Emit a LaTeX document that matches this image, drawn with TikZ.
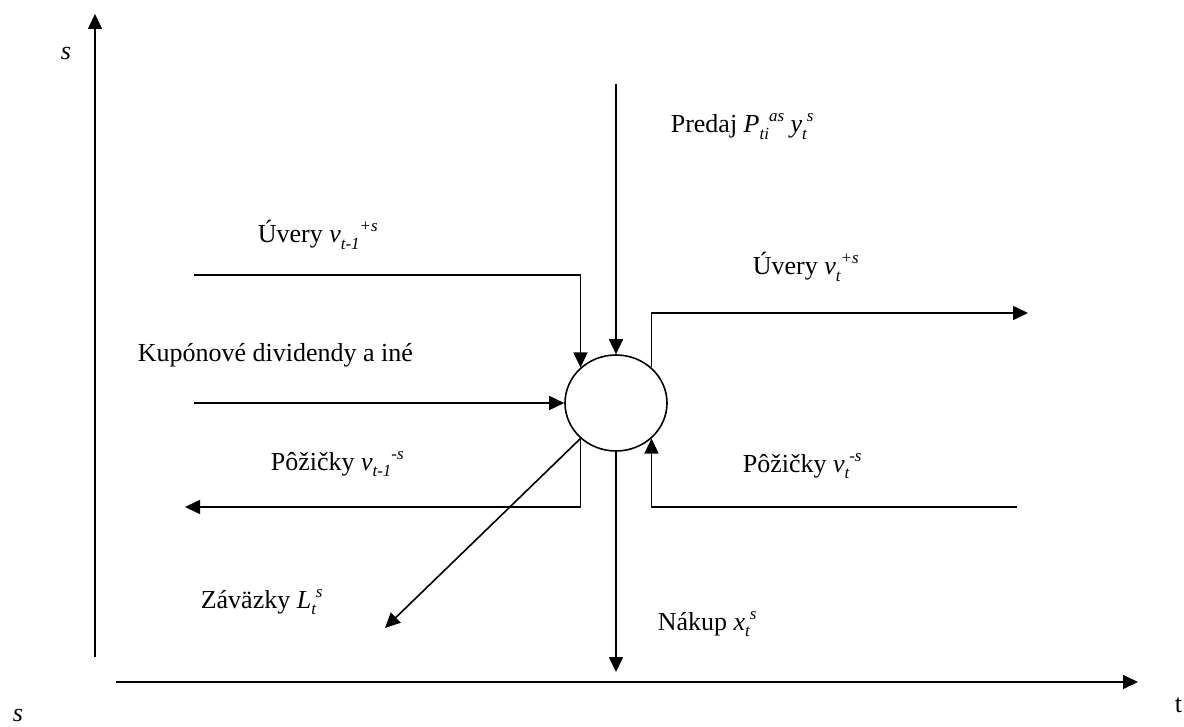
\documentclass[tikz,border=0pt]{standalone}
\usepackage{fontspec}
\setmainfont{Liberation Serif}
\usetikzlibrary{arrows.meta,shapes.geometric}
\newcommand\sbs[1]{\raisebox{-6.5pt}{\fontsize{17}{17}\selectfont #1}}
\newcommand\sps[1]{\raisebox{11pt}{\fontsize{17}{17}\selectfont #1}}
\begin{document}
\begin{tikzpicture}[x=1pt,y=-1pt,line width=1.6pt,
  arr/.style={-{Triangle[length=15pt,width=14pt]}},
  lbl/.style={anchor=base west,inner sep=0pt,font=\fontsize{26}{30}\selectfont},
  hub/.style={draw,ellipse,minimum width=102pt,minimum height=96pt,inner sep=0pt}]
\useasboundingbox (0,0) rectangle (1184,727);

% axes
\coordinate (yb) at (95,657);
\coordinate (yt) at (95,14);
\coordinate (xb) at (116,682);
\coordinate (xt) at (1138,682);
\draw[arr] (yb) -- (yt);
\draw[arr] (xb) -- (xt);
\node[lbl] (sTop) at (60,60) {\textit{s}};
\node[lbl] (sBot) at (12,721) {\textit{s}};
\node[lbl] (tLab) at (1174,712) {t};

% hub
\node[hub] (c) at (616,403) {};

% free ends
\coordinate (pr) at (616,84);
\coordinate (uv1) at (194,275);
\coordinate (kup) at (194,403);
\coordinate (pz1) at (185,507);
\coordinate (zav) at (385,628);
\coordinate (nak) at (616,672);
\coordinate (pz2) at (1017,507);
\coordinate (uv2) at (1028,313);

% connectors
\draw[arr] (pr) -- (c.north);
\draw[arr] (uv1) -| (c.135);
\draw[arr] (kup) -- (c.west);
\draw[arr] (c.225) |- (pz1);
\draw[arr] (c.225) -- (zav);
\draw[arr] (c.south) -- (nak);
\draw[arr] (pz2) -| (c.-45);
\draw[arr] (c.45) |- (uv2);

% labels
\node[lbl] (lPredaj) at (670,133) {Predaj \textit{P\sbs{ti}\sps{as} y\sbs{t}\sps{s}}};
\node[lbl] (lUv1) at (257,243) {Úvery \textit{v\sbs{t-1}\sps{+s}}};
\node[lbl] (lKup) at (137,362) {Kupónové dividendy a iné};
\node[lbl] (lPz1) at (270,470) {Pôžičky \textit{v\sbs{t-1}\sps{-s}}};
\node[lbl] (lZav) at (200,608) {Záväzky \textit{L\sbs{t}\sps{s}}};
\node[lbl] (lUv2) at (752,275) {Úvery \textit{v\sbs{t}\sps{+s}}};
\node[lbl] (lPz2) at (742,472) {Pôžičky \textit{v\sbs{t}\sps{-s}}};
\node[lbl] (lNak) at (657,630) {Nákup \textit{x\sbs{t}\sps{s}}};
\end{tikzpicture}
\end{document}
